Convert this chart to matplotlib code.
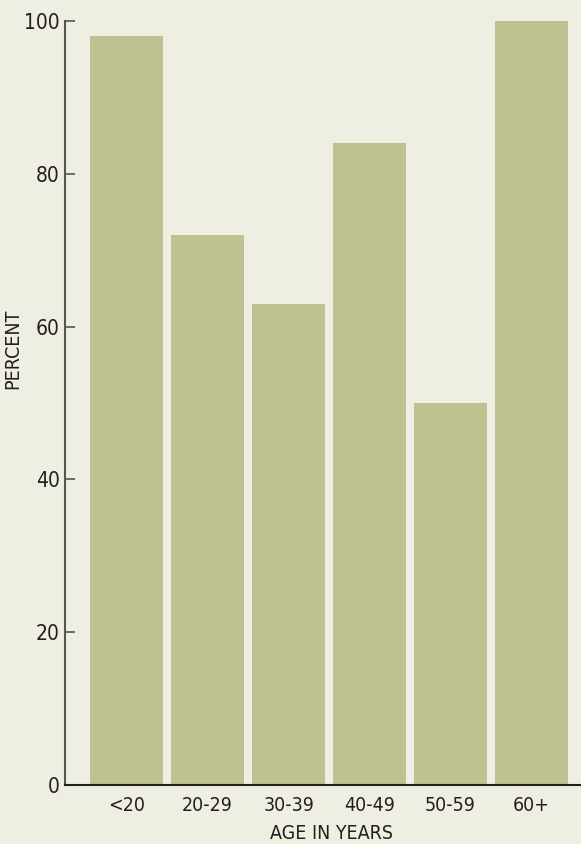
import matplotlib.pyplot as plt
import numpy as np

# data
age_groups = ['<20', '20-29', '30-39', '40-49', '50-59', '60+']
percent = [98, 72, 63, 84, 50, 100]
y_ticks = [0, 20, 40, 60, 80, 100]

bg_color = '#EFEEE3'
bar_color = '#BFC290'
text_color = '#231F20'

plt.rcParams['font.family'] = ['DejaVu Sans']
plt.rcParams['font.stretch'] = 'condensed'

fig = plt.figure(figsize=(5.81, 8.44), dpi=100, facecolor=bg_color)
ax = fig.add_axes([0.1119, 0.0699, 0.8881, 0.9052])
ax.set_facecolor(bg_color)

x = np.arange(len(age_groups))
ax.bar(x, percent, width=0.9, color=bar_color, linewidth=0)

ax.set_xlim(-0.76, 5.61)
ax.set_ylim(0, 100)
ax.set_xticks(x)
ax.set_xticklabels(age_groups, fontsize=14, color=text_color)
ax.set_yticks(y_ticks)
ax.set_yticklabels([str(v) for v in y_ticks], fontsize=15, color=text_color)

ax.tick_params(axis='x', length=0, pad=8)
ax.tick_params(axis='y', direction='in', length=7, width=1.2, color='#555555', pad=4)

for side in ['top', 'right']:
    ax.spines[side].set_visible(False)
ax.spines['left'].set_color('#555555')
ax.spines['left'].set_linewidth(1.5)
ax.spines['bottom'].set_color('#231F20')
ax.spines['bottom'].set_linewidth(1.5)

ax.set_xlabel('AGE IN YEARS', fontsize=14, color=text_color)
ax.xaxis.set_label_coords(0.516, -0.051)
ax.set_ylabel('PERCENT', fontsize=14, color=text_color)
ax.yaxis.set_label_coords(-0.083, 0.571)

plt.savefig('out.png', dpi=100, facecolor=bg_color)
